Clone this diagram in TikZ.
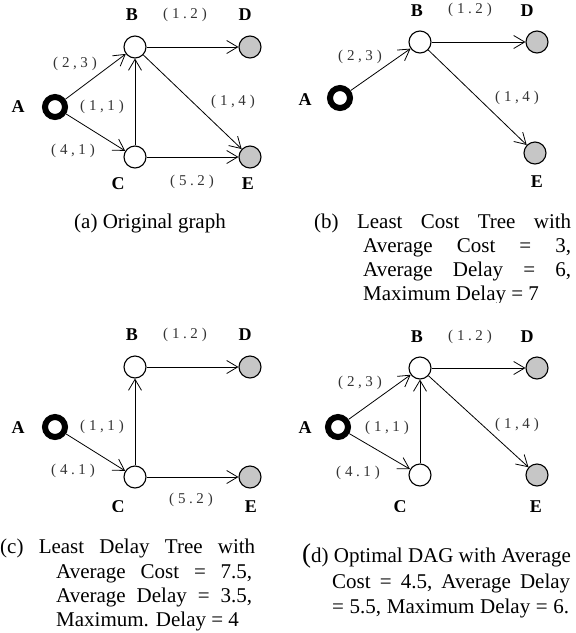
\documentclass[tikz,border=0pt]{standalone}
\usepackage{graphicx}
\usepackage{fontspec}
\setmainfont{Liberation Serif}
\usetikzlibrary{arrows.meta}
% edge weight label: (cost,delay) with wide letter spacing
\newcommand\wlab[3]{(\hspace{4pt}#1\hspace{3.5pt}#2\hspace{3.5pt}#3\hspace{4pt})}
\tikzset{
  vtx/.style={circle, draw, line width=1.1pt, minimum size=22pt, inner sep=0pt, fill=white},
  leaf/.style={vtx, fill=gray!45},
  src/.style={circle, draw, line width=6pt, minimum size=20pt, inner sep=0pt},
  vname/.style={font=\fontsize{18}{18}\selectfont\bfseries, inner sep=0pt},
  wt/.style={font=\fontsize{15}{15}\selectfont, text=black!80, inner sep=0pt},
  edge/.style={-{Straight Barb[length=11pt,width=13pt]}, line width=0.8pt},
  captxt/.style={font=\fontsize{21}{21}\selectfont, inner sep=0pt, anchor=base west},
}
\begin{document}
\begin{tikzpicture}[x=1pt, y=-1pt]
\useasboundingbox (0,0) rectangle (576,633);

% ---------------- (a) original graph ----------------
\node[src]  (aA) at (55,107) {};
\node[vtx]  (aB) at (135,47) {};
\node[leaf] (aD) at (250,47) {};
\node[vtx]  (aC) at (135,157) {};
\node[leaf] (aE) at (250,157) {};
\node[vname] (aAl) at (18,107) {A};
\node[vname] (aBl) at (132,15) {B};
\node[vname] (aDl) at (245,15) {D};
\node[vname] (aCl) at (118,184) {C};
\node[vname] (aEl) at (248,184) {E};
\draw[edge] (aA) -- (aB);
\draw[edge] (aA) -- (aC);
\draw[edge] (aC) -- (aB);
\draw[edge] (aB) -- (aD);
\draw[edge] (aB) -- (aE);
\draw[edge] (aC) -- (aE);
\node[wt] (aw1) at (75,64)   {\wlab{2}{,}{3}};
\node[wt] (aw2) at (185,15)  {\wlab{1}{.}{2}};
\node[wt] (aw3) at (102,107) {\wlab{1}{,}{1}};
\node[wt] (aw4) at (73,151)  {\wlab{4}{,}{1}};
\node[wt] (aw5) at (192,182) {\wlab{5}{.}{2}};
\node[wt] (aw6) at (233,102) {\wlab{1}{,}{4}};
\node[font=\fontsize{21}{21}\selectfont, inner sep=0pt, anchor=base] (acap) at (150,228) {(a) Original graph};

% ---------------- (b) least cost tree ----------------
\node[src]  (bA) at (340,98) {};
\node[vtx]  (bB) at (420,42) {};
\node[leaf] (bD) at (537,42) {};
\node[leaf] (bE) at (535,153) {};
\node[vname] (bAl) at (305,100) {A};
\node[vname] (bBl) at (417,11) {B};
\node[vname] (bDl) at (527,11) {D};
\node[vname] (bEl) at (537,182) {E};
\draw[edge] (bA) -- (bB);
\draw[edge] (bB) -- (bD);
\draw[edge] (bB) -- (bE);
\node[wt] (bw1) at (360,57) {\wlab{2}{,}{3}};
\node[wt] (bw2) at (470,10) {\wlab{1}{.}{2}};
\node[wt] (bw3) at (517,98) {\wlab{1}{,}{4}};
\node[captxt] (bc1) at (314,228) {\makebox[257pt][s]{(b)\hfill Least\hfill Cost\hfill Tree\hfill with}};
\node[captxt] (bc2) at (363,252) {\makebox[208pt][s]{Average\hfill Cost\hfill =\hfill 3,}};
\node[captxt] (bc3) at (363,276) {\makebox[208pt][s]{Average\hfill Delay\hfill =\hfill 6,}};
\begin{scope}
  \clip (290,200) rectangle (576,302);
  \node[captxt] (bc4) at (363,300) {Maximum Delay = 7};
\end{scope}

% ---------------- (c) least delay tree ----------------
\begin{scope}
  \clip (0,320) rectangle (290,511.5);
  \node[src]  (cA) at (55,427) {};
  \node[vtx]  (cB) at (135,367) {};
  \node[leaf] (cD) at (250,367) {};
  \node[vtx]  (cC) at (135,477) {};
  \node[leaf] (cE) at (250,477) {};
  \node[vname] (cAl) at (18,428) {A};
  \node[vname] (cBl) at (132,335) {B};
  \node[vname] (cDl) at (245,335) {D};
  \node[vname] (cCl) at (118,507) {C};
  \node[vname] (cEl) at (251,507) {E};
  \draw[edge] (cA) -- (cC);
  \draw[edge] (cC) -- (cB);
  \draw[edge] (cB) -- (cD);
  \draw[edge] (cC) -- (cE);
  \node[wt] (cw1) at (185,335) {\wlab{1}{.}{2}};
  \node[wt] (cw2) at (102,427) {\wlab{1}{,}{1}};
  \node[wt] (cw3) at (73,471)  {\wlab{4}{.}{1}};
  \node[wt] (cw4) at (191,500) {\wlab{5}{.}{2}};
\end{scope}
\node[captxt] (cc1) at (0,553)  {\makebox[255pt][s]{(c)\hfill Least\hfill Delay\hfill Tree\hfill with}};
\node[captxt] (cc2) at (56,578) {\makebox[196pt][s]{Average\hfill Cost\hfill =\hfill 7.5,}};
\node[captxt] (cc3) at (56,602) {\makebox[196pt][s]{Average\hfill Delay\hfill =\hfill 3.5,}};
\node[captxt] (cc4) at (56,626) {Maximum. Delay = 4};

% ---------------- (d) optimal DAG ----------------
\begin{scope}
  \clip (290,320) rectangle (576,511.5);
  \node[src]  (dA) at (338,427) {};
  \node[vtx]  (dB) at (420,368) {};
  \node[leaf] (dD) at (537,368) {};
  \node[vtx]  (dC) at (420,475) {};
  \node[leaf] (dE) at (537,475) {};
  \node[vname] (dAl) at (305,428) {A};
  \node[vname] (dBl) at (417,337) {B};
  \node[vname] (dDl) at (527,337) {D};
  \node[vname] (dCl) at (400,507) {C};
  \node[vname] (dEl) at (536,507) {E};
  \draw[edge] (dA) -- (dB);
  \draw[edge] (dA) -- (dC);
  \draw[edge] (dC) -- (dB);
  \draw[edge] (dB) -- (dD);
  \draw[edge] (dB) -- (dE);
  \node[wt] (dw1) at (360,383) {\wlab{2}{,}{3}};
  \node[wt] (dw2) at (470,337) {\wlab{1}{.}{2}};
  \node[wt] (dw3) at (387,428) {\wlab{1}{,}{1}};
  \node[wt] (dw4) at (358,473) {\wlab{4}{.}{1}};
  \node[wt] (dw5) at (517,425) {\wlab{1}{,}{4}};
\end{scope}
\node[captxt] (dc1) at (302,562) {{\fontsize{27}{27}\selectfont(}d) Optimal DAG with Average};
\node[captxt] (dc2) at (332,588) {\makebox[238pt][s]{Cost\hfill =\hfill 4.5,\hfill Average\hfill Delay}};
\node[captxt] (dc3) at (332,613) {\makebox[237pt][s]{= 5.5, Maximum Delay = 6.}};
\end{tikzpicture}
\end{document}
